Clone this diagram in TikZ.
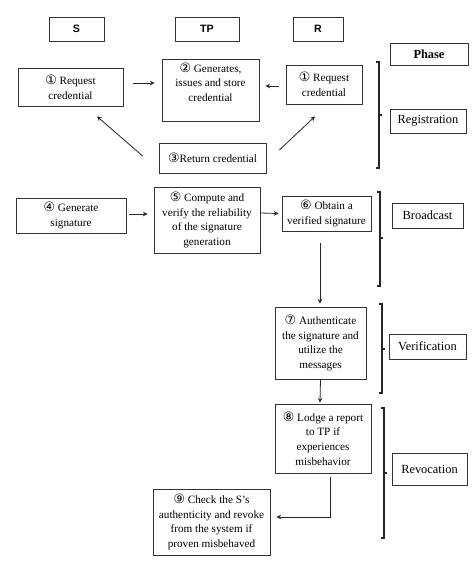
\documentclass[tikz,border=0pt]{standalone}
\usepackage{fontspec}
\setmainfont{Liberation Serif}
\newfontfamily\headfont{Liberation Sans}
\newfontfamily\circfont{DejaVu Sans}[Scale=1.15]
\usetikzlibrary{calc}
\newcommand{\cn}[1]{{\circfont #1}}

\begin{document}
\begin{tikzpicture}[x=0.75pt, y=-0.75pt, >=stealth,
  actor/.style={draw=black!80, line width=.6pt, minimum height=18pt, inner sep=1pt, font=\headfont\bfseries\fontsize{8}{9}\selectfont},
  task/.style={draw=black!80, line width=.6pt, align=center, inner sep=1pt, font=\fontsize{8.4}{11}\selectfont},
  phase/.style={draw=black!80, line width=.6pt, inner sep=1pt, font=\fontsize{9.3}{11}\selectfont},
  link/.style={->, draw=black!85, line width=.6pt}]
\useasboundingbox (0,0) rectangle (474,562);
% parties
\node[actor, minimum width=41.25pt] (s) at (76.5,29) {S};
\node[actor, minimum width=48pt] (tp) at (207,29) {TP};
\node[actor, minimum width=37.5pt] (r) at (318,29) {R};
\node[phase, minimum width=58.5pt, minimum height=16.5pt, font=\fontsize{9.3}{11}\selectfont\bfseries] (ph) at (429,54) {Phase};
% registration
\node[task, minimum width=78.75pt, minimum height=28.5pt] (sreq) at (70.5,87) {\cn{①} Request\\credential};
\node[task, minimum width=72.75pt, minimum height=46.5pt, text depth=12pt] (tpgen) at (210.5,90) {\cn{②} Generates,\\issues and store\\credential};
\node[task, minimum width=57pt, minimum height=29.25pt] (rreq) at (324,84.5) {\cn{①} Request\\credential};
\node[task, minimum width=80.25pt, minimum height=22.5pt] (ret) at (212.5,158) {\cn{③}Return credential};
\node[phase, minimum width=57pt, minimum height=18pt] (reg) at (428,121) {Registration};
% broadcast
\node[task, minimum width=82.5pt, minimum height=26.25pt] (gensig) at (71,215.5) {\cn{④} Generate\\signature};
\node[task, minimum width=79.5pt, minimum height=49.5pt] (comp) at (207,220) {\cn{⑤} Compute and\\verify the reliability\\of the signature\\generation};
\node[task, minimum width=66.75pt, minimum height=26.25pt] (obtain) at (326.5,213.5) {\cn{⑥} Obtain a\\verified signature};
\node[phase, minimum width=53.25pt, minimum height=18.75pt] (bc) at (427.5,215.5) {Broadcast};
% verification and revocation
\node[task, minimum width=68.25pt, minimum height=54pt] (auth) at (320.5,343) {\cn{⑦} Authenticate\\the signature and\\utilize the\\messages};
\node[phase, minimum width=57.75pt, minimum height=18.75pt] (ver) at (427.5,346.5) {Verification};
\node[task, minimum width=72pt, minimum height=51.75pt] (lodge) at (323,438.5) {\cn{⑧} Lodge a report\\to TP if\\experiences\\misbehavior};
\node[phase, minimum width=56.25pt, minimum height=24pt] (rev) at (429.5,469) {Revocation};
\node[task, minimum width=87.75pt, minimum height=49.5pt] (check) at (211.5,522) {\cn{⑨} Check the S’s\\authenticity and revoke\\from the system if\\proven misbehaved};
% arrows
\draw[link] ($(sreq.east)+(10,-4)$) -- ($(tpgen.west)+(-7,-7)$);
\draw[link] ($(rreq.west)+(-7,1.5)$) -- ($(tpgen.east)+(6,-4)$);
\draw[link] ($(ret.west)+(-16,-2)$) -- ($(sreq.south)+(26.5,10)$);
\draw[link] ($(ret.east)+(13,-8)$) -- ($(rreq.south)+(-9,12)$);
\draw[link] ($(gensig.east)+(3,-1.5)$) -- ($(comp.west)+(-6,-6)$);
\draw[link] ($(comp.east)+(0,-7)$) -- ($(obtain.west)+(-3,0)$);
\draw[link] ($(obtain.south)+(-6.5,12)$) -- ($(auth.north)+(-0.5,-3)$);
\draw[link] (auth.south) -- ($(lodge.north)+(-3,-1)$);
\draw[link] ($(lodge.south)+(7,4)$) |- ($(check.east)+(6,-5)$);
% phase brackets
\foreach \x/\t/\b/\m in {379/62/168/115, 380/192/286/238, 382/304/393/349, 384/408/538/473}
{
\draw[black!85, line width=.8pt] (\x-3,\t) -- (\x,\t) -- (\x,\b) -- (\x-3,\b);
\draw[black!85, line width=.8pt] (\x,\m) -- (\x+3,\m);
}
\end{tikzpicture}
\end{document}
